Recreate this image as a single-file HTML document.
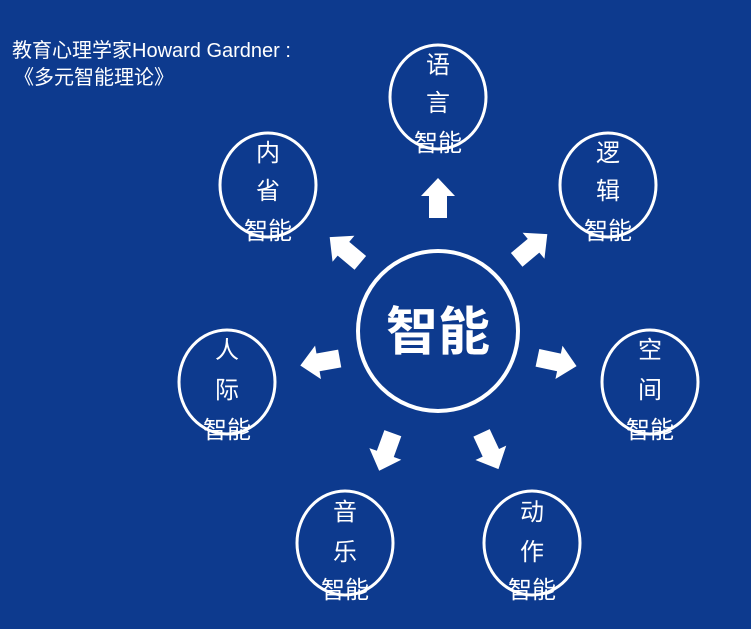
<!DOCTYPE html>
<html><head><meta charset="utf-8"><style>
html,body{margin:0;padding:0;}
body{width:751px;height:624px;background:#0d3a8e;overflow:hidden;}
text{font-family:"Liberation Sans","Noto Sans CJK SC",sans-serif;fill:#fff;}
</style></head><body>
<svg width="751" height="624" viewBox="0 0 751 624">
<defs>
<polygon id="ar" points="-20,-9 2,-9 2,-17 20,0 2,17 2,9 -20,9" fill="#fff"/>
</defs>
<text x="12" y="57" font-size="20">教育心理学家Howard Gardner :</text>
<text x="14" y="84" font-size="20">《多元智能理论》</text>

<circle cx="438" cy="331" r="80" fill="none" stroke="#fff" stroke-width="4"/>
<text x="438" y="350" font-size="52" font-weight="bold" text-anchor="middle">智能</text>

<g fill="none" stroke="#fff" stroke-width="3">
<ellipse cx="438" cy="97" rx="48" ry="52"/>
<ellipse cx="608" cy="185" rx="48" ry="52"/>
<ellipse cx="268" cy="185" rx="48" ry="52"/>
<ellipse cx="650" cy="382" rx="48" ry="52"/>
<ellipse cx="227" cy="382" rx="48" ry="52"/>
<ellipse cx="345" cy="543" rx="48" ry="52"/>
<ellipse cx="532" cy="543" rx="48" ry="52"/>
</g>

<g font-size="24" text-anchor="middle">
<text x="438" y="73">语</text><text x="438" y="111">言</text><text x="438" y="151">智能</text>
<text x="608" y="161">逻</text><text x="608" y="199">辑</text><text x="608" y="239">智能</text>
<text x="268" y="161">内</text><text x="268" y="199">省</text><text x="268" y="239">智能</text>
<text x="650" y="358">空</text><text x="650" y="398">间</text><text x="650" y="438">智能</text>
<text x="227" y="358">人</text><text x="227" y="398">际</text><text x="227" y="438">智能</text>
<text x="345" y="520">音</text><text x="345" y="560">乐</text><text x="345" y="598">智能</text>
<text x="532" y="520">动</text><text x="532" y="560">作</text><text x="532" y="598">智能</text>
</g>

<use href="#ar" transform="translate(438,198) rotate(-90)"/>
<use href="#ar" transform="translate(532,247) rotate(-40)"/>
<use href="#ar" transform="translate(345,250) rotate(-140)"/>
<use href="#ar" transform="translate(320,362) rotate(170)"/>
<use href="#ar" transform="translate(557,362) rotate(12)"/>
<use href="#ar" transform="translate(386,452) rotate(110)"/>
<use href="#ar" transform="translate(490,451) rotate(65)"/>
</svg>
</body></html>
